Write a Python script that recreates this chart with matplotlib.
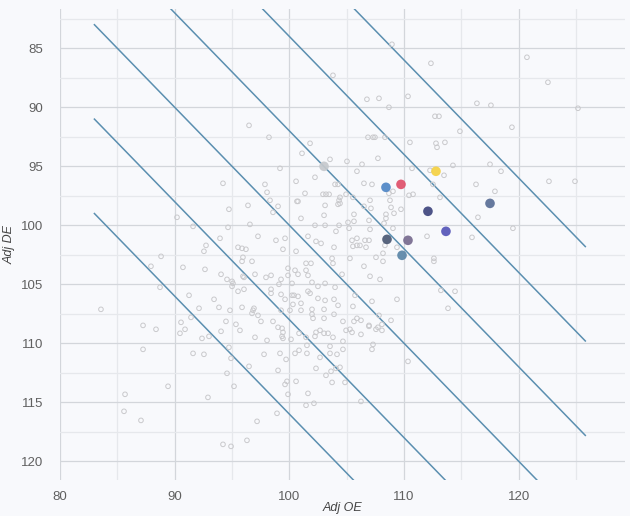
import matplotlib
matplotlib.use("Agg")
import matplotlib.pyplot as plt
import numpy as np

# ---- background teams (Adj OE, Adj DE) ----
oe = [90.20, 91.60, 92.73, 92.55, 88.81,
      87.93, 90.72, 92.64, 88.72, 91.25, 92.12, 91.42, 83.57, 87.24, 88.37, 90.55, 90.90, 90.46,
      92.38, 87.24, 91.60, 92.55, 89.42, 85.67, 92.90, 85.58, 87.06, 92.99,
      103.80, 108.94, 106.76, 107.81, 108.68, 110.34, 96.48, 98.22, 101.80, 106.85, 107.29, 107.46,
      108.33, 110.51, 101.10, 107.72, 103.54, 105.02, 106.33, 99.18, 105.89, 110.69, 102.23, 94.21,
      97.87, 100.58, 103.98, 104.24, 106.50, 107.20, 98.05, 101.36, 102.93, 103.19, 103.46, 104.41,
      104.94, 105.54, 108.68, 109.03, 110.43, 110.78, 98.31, 100.66, 100.75, 104.33, 104.41, 107.03,
      108.77, 94.73, 96.39, 99.01, 103.11, 104.24, 106.50, 107.11, 108.86, 109.73, 98.57, 103.02,
      105.63, 108.42, 109.12, 101.01, 106.94, 108.42, 96.56, 94.65, 102.23, 103.11, 104.33, 105.11,
      105.63, 107.03, 108.25, 109.03, 104.06, 105.20, 97.26, 99.62, 101.62, 93.95, 98.83, 102.32,
      102.76, 103.89, 105.46, 105.89, 106.59, 106.94, 105.89, 106.15, 105.54, 106.68, 108.33, 109.38,
      95.52, 95.87, 96.21, 99.44, 100.58, 95.95, 103.72, 105.28, 107.55, 108.16,
      112.34, 120.71, 122.54, 116.35, 117.57, 125.16, 112.69, 113.04, 119.40, 114.87, 112.78, 113.56,
      112.87, 114.26, 117.49, 118.45, 112.26, 113.48, 122.63, 124.90, 112.52, 116.27, 117.92, 113.13,
      116.44, 112.00, 119.49, 115.92, 112.60,
      95.87, 96.74, 101.45, 101.88, 103.80, 106.50, 108.16, 94.04, 94.56, 95.00, 95.08, 95.95,
      96.04, 97.00, 97.96, 98.40, 99.88, 99.88, 100.49, 100.75, 101.45, 101.62, 99.27, 99.09,
      100.23, 101.97, 102.49, 103.11, 103.98, 104.59, 107.03, 107.90, 93.43, 95.00, 95.52, 96.04,
      98.40, 98.40, 99.27, 99.62, 100.23, 100.40, 100.75, 101.62, 101.80, 100.31, 101.01, 102.49,
      103.11, 103.89, 104.24, 105.54, 105.72, 107.20, 109.38, 93.86, 94.82, 95.87, 96.83, 96.91,
      96.74, 97.26, 97.52, 98.57, 99.27, 100.05, 101.01, 101.97, 101.97, 102.06, 103.02, 103.02,
      103.89, 104.67, 105.63, 105.89, 106.24, 106.94, 107.81, 108.07, 108.86, 94.47, 95.34, 95.69,
      94.04, 97.00, 98.05, 99.01, 99.36, 99.44, 99.36, 99.44, 100.14, 100.84, 101.45, 102.23,
      102.32, 102.67, 103.02, 103.37, 103.80, 104.67, 104.94, 105.28, 105.46, 106.24, 106.94, 107.55,
      107.72, 108.07, 94.73, 94.91, 97.79, 99.18, 99.71, 100.49, 100.84, 101.53, 101.53, 102.67,
      103.54, 103.54, 104.15, 104.67, 107.29, 107.20, 96.48, 94.56, 99.01, 102.32, 103.19, 103.63,
      104.06, 104.41, 104.85, 103.72, 110.34, 95.17, 99.62, 99.79, 100.58, 99.88, 101.62, 101.45,
      102.14, 106.24, 98.92, 97.18, 94.21, 94.91, 96.30,
      112.60, 113.21, 114.44, 113.83]
de = [99.32, 100.09, 101.70, 102.20, 102.63,
      103.47, 103.56, 103.73, 105.25, 105.93, 107.03, 107.80, 107.12, 108.48, 108.81, 108.22, 108.81, 109.15,
      109.58, 110.51, 110.85, 110.93, 113.64, 114.32, 114.58, 115.76, 116.53, 109.41,
      87.29, 84.66, 89.32, 89.24, 90.00, 89.07, 91.53, 92.54, 93.05, 92.54, 92.54, 92.54,
      92.54, 92.97, 93.90, 94.32, 94.41, 94.58, 94.83, 95.17, 95.42, 95.17, 95.93, 96.44,
      96.53, 96.27, 96.53, 96.53, 96.44, 96.53, 97.20, 97.29, 97.37, 97.37, 97.37, 97.63,
      97.37, 97.63, 97.29, 97.12, 97.46, 97.37, 97.88, 97.97, 97.97, 97.88, 98.14, 97.88,
      97.88, 98.64, 98.31, 98.39, 98.31, 98.22, 98.39, 98.56, 98.48, 98.64, 98.90, 99.15,
      99.07, 99.07, 98.98, 99.41, 99.58, 99.41, 99.92, 100.17, 100.00, 100.00, 100.00, 99.75,
      99.66, 100.34, 99.83, 100.25, 100.51, 100.25, 100.93, 101.10, 100.93, 101.10, 101.27, 101.36,
      101.53, 101.86, 101.27, 101.10, 101.27, 101.27, 101.70, 101.70, 101.78, 101.86, 101.70, 101.86,
      101.86, 101.95, 102.03, 102.03, 102.20, 102.71, 102.80, 102.80, 102.71, 102.37,
      86.27, 85.76, 87.88, 89.66, 89.83, 90.08, 90.76, 90.76, 91.69, 92.03, 93.05, 92.97,
      93.39, 94.92, 94.83, 95.42, 95.34, 95.76, 96.27, 96.27, 96.53, 96.53, 97.12, 97.63,
      99.32, 100.93, 100.25, 101.02, 102.80,
      103.05, 103.05, 103.22, 103.22, 103.22, 103.47, 103.05, 104.15, 104.58, 104.75, 104.92, 104.32,
      104.41, 104.15, 104.41, 104.24, 103.64, 104.24, 103.81, 104.15, 103.81, 104.24, 104.58, 105.00,
      104.92, 104.83, 105.17, 104.92, 105.25, 104.15, 104.32, 104.58, 106.27, 105.17, 105.59, 105.42,
      105.42, 105.76, 105.85, 106.27, 105.93, 105.93, 106.02, 105.59, 105.76, 106.70, 106.61, 106.19,
      106.36, 106.27, 106.78, 106.87, 105.93, 106.44, 106.27, 106.95, 107.20, 106.95, 107.20, 107.03,
      107.46, 107.63, 108.14, 108.14, 107.20, 107.20, 107.20, 107.12, 107.54, 107.88, 107.12, 107.88,
      107.54, 108.14, 108.14, 107.88, 108.05, 108.48, 107.63, 108.39, 108.05, 108.14, 108.39, 108.90,
      108.98, 109.49, 109.75, 108.64, 108.73, 109.07, 109.41, 109.58, 109.66, 109.15, 109.49, 109.41,
      109.07, 108.90, 109.15, 109.15, 109.49, 109.83, 108.90, 108.81, 109.07, 109.24, 108.56, 108.81,
      108.64, 108.90, 110.34, 111.27, 110.93, 110.85, 111.36, 110.85, 110.59, 110.17, 110.85, 111.19,
      110.25, 110.85, 110.93, 110.51, 110.09, 110.51, 111.95, 112.54, 112.29, 112.12, 112.71, 112.37,
      112.12, 112.03, 113.31, 113.31, 111.53, 113.64, 113.48, 113.22, 113.22, 114.32, 114.24, 115.25,
      115.08, 114.92, 115.93, 116.61, 118.56, 118.73, 118.22,
      103.05, 105.51, 105.59, 107.03]

# ---- highlighted teams ----
hl_oe = [103.02, 108.42, 109.73, 112.78, 117.49, 112.08, 113.65, 108.51, 110.34, 109.82]
hl_de = [95.00, 96.78, 96.53, 95.42, 98.14, 98.81, 100.51, 101.19, 101.27, 102.54]
hl_colors = ["#c6c9cd", "#4f86c6", "#e0506a", "#f5d142", "#5a6e96",
             "#3f467e", "#5555b8", "#4a5873", "#776b8f", "#5b86a8"]

# ---- efficiency-margin reference lines (OE - DE) ----
margins = [-16, -8, 0, 8, 16, 24]
line_oe_range = [83.0, 125.8]

x_ticks = [80, 90, 100, 110, 120]
y_ticks = [85, 90, 95, 100, 105, 110, 115, 120]

bg = "#f8f9fc"
plt.rcParams['font.family'] = ['Liberation Sans', 'DejaVu Sans']

fig = plt.figure(figsize=(6.3, 5.16), dpi=100, facecolor=bg)
ax = fig.add_axes([60/630, 1-480/516, 565/630, 471/516])
ax.set_facecolor(bg)

ax.set_xlim(80, 129.26)
ax.set_ylim(121.58, 81.67)

ax.set_xticks(x_ticks)
ax.set_yticks(y_ticks)
ax.set_xticks([85, 95, 105, 115, 125], minor=True)
ax.set_yticks([82.5, 87.5, 92.5, 97.5, 102.5, 107.5, 112.5, 117.5], minor=True)
ax.grid(True, which='major', color='#d3d6db', linewidth=0.9, zorder=0)
ax.grid(True, which='minor', color='#e6e8ec', linewidth=0.9, zorder=0)
ax.set_axisbelow(True)
for s in ax.spines.values():
    s.set_visible(False)
ax.tick_params(which='both', length=0, labelsize=9.5, labelcolor='#606060')
ax.tick_params(axis='x', pad=8)
ax.tick_params(axis='y', pad=12)

lx = np.array(line_oe_range)
for m in margins:
    ax.plot(lx, lx - m, color='#5b8fb0', linewidth=1.1, zorder=2)

ax.scatter(oe, de, s=11, facecolors='none', edgecolors='#c9c9cc', linewidths=0.7, zorder=3)
ax.scatter(hl_oe, hl_de, s=48, c=hl_colors, edgecolors='none', alpha=0.92, zorder=4)

ax.set_xlabel('Adj OE', fontsize=9, style='italic', color='#444444', va='center')
ax.xaxis.set_label_coords(0.5, -28/471)
ax.set_ylabel('Adj DE', fontsize=9, style='italic', color='#444444', labelpad=4)

fig.savefig('out.png', dpi=100, facecolor=bg)
